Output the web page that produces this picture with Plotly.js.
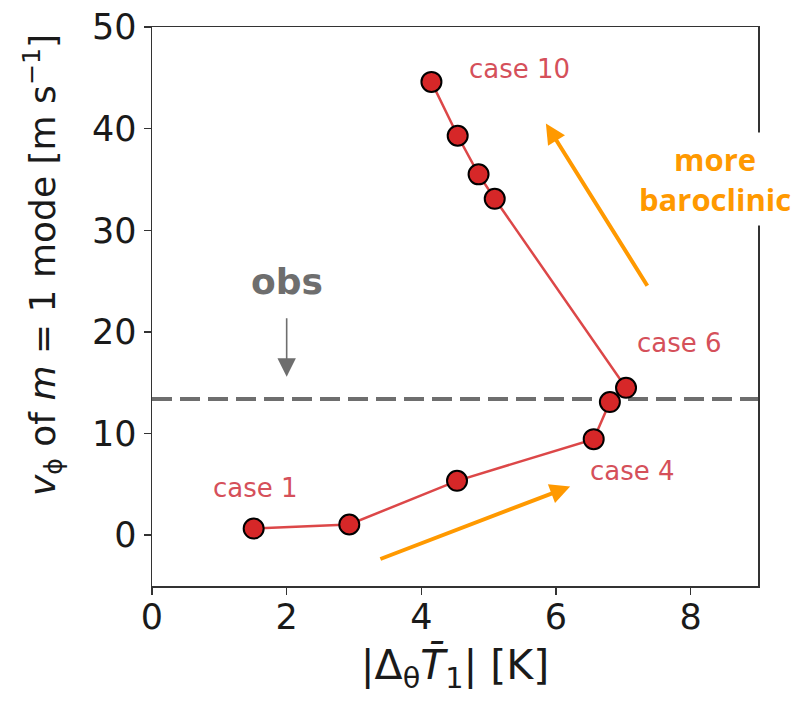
<!DOCTYPE html>
<html>
<head>
<meta charset="utf-8">
<script src="https://cdn.plot.ly/plotly-3.0.1.min.js"></script>
<style>html,body{margin:0;padding:0;background:#fff;} #plot{width:800px;height:710px;}</style>
</head>
<body>
<div id="plot"></div>
<script>
// Data
const caseNames = ["case 1","case 2","case 3","case 4","case 5","case 6","case 7","case 8","case 9","case 10"];
const deltaT = [1.51, 2.93, 4.53, 6.56, 6.80, 7.04, 5.09, 4.85, 4.54, 4.15];
const vPhi   = [0.65, 1.05, 5.35, 9.45, 13.1, 14.5, 33.1, 35.5, 39.3, 44.6];
const obsValue = 13.4;
const obsX = 2;
const xRange = [0, 9];
const yRange = [-5, 50];
const xTicks = [0, 2, 4, 6, 8];
const yTicks = [0, 10, 20, 30, 40, 50];

const labelColor = "#d5505a";
const orange = "#ff9900";
const inkColor = "#1a1a1a";

const traces = [
  {
    x: xRange, y: [obsValue, obsValue],
    mode: "lines",
    line: {color: "#6e6e6e", width: 4, dash: "20px,8px"},
    hoverinfo: "skip", showlegend: false
  },
  {
    x: deltaT, y: vPhi, text: caseNames,
    mode: "lines+markers",
    line: {color: "rgba(214,39,40,0.85)", width: 2.5},
    marker: {color: "#d62728", size: 20, line: {color: "#000", width: 2}},
    showlegend: false, cliponaxis: false
  }
];

const lab = (t, x, y) => ({text: t, x: x, y: y, xref: "x", yref: "y", showarrow: false,
  font: {family: "DejaVu Sans", size: 26, color: labelColor}});

const layout = {
  width: 800, height: 710,
  margin: {l: 152, r: 42, t: 27, b: 124},
  paper_bgcolor: "#fff", plot_bgcolor: "#fff",
  font: {family: "DejaVu Sans", color: inkColor},
  xaxis: {
    range: xRange, tickvals: xTicks, ticktext: xTicks.map(String),
    showgrid: false, zeroline: false,
    showline: true, mirror: true, linecolor: "#333", linewidth: 1.5,
    ticks: "outside", ticklen: 7, tickwidth: 1.5, tickcolor: "#333",
    ticklabelstandoff: -8,
    tickfont: {size: 35, family: "DejaVu Sans", color: inkColor},
    title: {text: "|Δ<sub>θ</sub><i>T\u0304</i><sub>1</sub>| [K]", font: {size: 41, family: "DejaVu Sans", color: inkColor}, standoff: 15}
  },
  yaxis: {
    range: yRange, tickvals: yTicks, ticktext: yTicks.map(String),
    showgrid: false, zeroline: false,
    showline: true, mirror: true, linecolor: "#333", linewidth: 1.5,
    ticks: "outside", ticklen: 7, tickwidth: 1.5, tickcolor: "#333",
    tickfont: {size: 35, family: "DejaVu Sans", color: inkColor}
  },
  annotations: [
    {text: "<i>v</i><sub>ϕ</sub> of <i>m</i> = 1 mode [m s<sup>−1</sup>]", textangle: -90,
     x: -0.18, y: 0.574, xref: "paper", yref: "paper", xanchor: "center", yanchor: "middle", showarrow: false,
     font: {size: 36, family: "DejaVu Sans", color: inkColor}},
    lab(caseNames[0], 1.53, 4.6),
    lab(caseNames[3], 7.14, 6.3),
    lab(caseNames[5], 7.84, 18.9),
    lab(caseNames[9], 5.46, 45.9),
    {text: "<b>obs</b>", x: obsX, y: 25.0, xref: "x", yref: "y", showarrow: false,
     font: {family: "DejaVu Sans", size: 36, color: "#6e6e6e"}},
    {text: "", x: obsX, y: 15.6, ax: obsX, ay: 21.5, xref: "x", yref: "y", axref: "x", ayref: "y",
     showarrow: true, arrowhead: 2, arrowsize: 2.3, arrowwidth: 1.6, arrowcolor: "#6e6e6e", standoff: 0},
    {text: "", x: 6.21, y: 4.8, ax: 3.37, ay: -2.4, xref: "x", yref: "y", axref: "x", ayref: "y",
     showarrow: true, arrowhead: 2, arrowsize: 1, arrowwidth: 4, arrowcolor: orange, standoff: 0},
    {text: "", x: 5.85, y: 40.5, ax: 7.37, ay: 24.4, xref: "x", yref: "y", axref: "x", ayref: "y",
     showarrow: true, arrowhead: 2, arrowsize: 1, arrowwidth: 4, arrowcolor: orange, standoff: 0},
    {text: "<b>more</b><br><b>baroclinic</b>", x: 8.36, y: 35.0, xref: "x", yref: "y", showarrow: false,
     font: {family: "Open Sans", size: 31, color: orange}, bgcolor: "#fff", borderpad: 5}
  ]
};

Plotly.newPlot("plot", traces, layout, {displayModeBar: false, staticPlot: true});
</script>
</body>
</html>
